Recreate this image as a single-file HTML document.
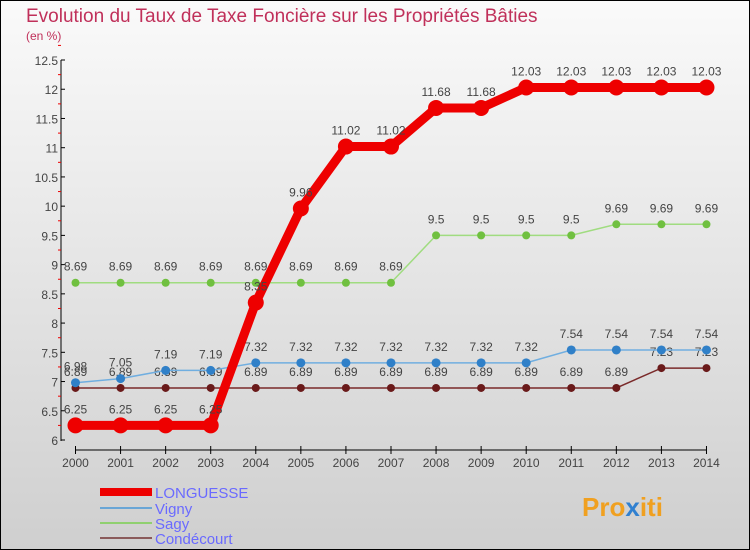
<!DOCTYPE html>
<html><head><meta charset="utf-8"><style>
body{margin:0}
#c{width:750px;height:550px;position:relative;background:linear-gradient(#fafafa,#cfcfcf);box-sizing:border-box;border:1px solid #000;overflow:hidden;font-family:"Liberation Sans",sans-serif}
</style></head><body>
<div id="c">
<svg id="s" width="750" height="550" style="position:absolute;left:-1px;top:-1px">
<text x="26" y="22" font-size="19" fill="#c0305a">Evolution du Taux de Taxe Foncière sur les Propriétés Bâties</text>
<text x="26" y="40" font-size="12" fill="#c0305a">(en %)</text>
<g id="axes"></g><g id="series"></g>
<g font-size="15" fill="#6a6aff">
<line x1="100" y1="492" x2="152" y2="492" stroke="#e00" stroke-width="8"/><text x="155" y="498">LONGUESSE</text>
<line x1="100" y1="508" x2="152" y2="508" stroke="#6aa6d6" stroke-width="2"/><text x="155" y="514">Vigny</text>
<line x1="100" y1="523" x2="152" y2="523" stroke="#90d070" stroke-width="2"/><text x="155" y="529">Sagy</text>
<line x1="100" y1="538" x2="152" y2="538" stroke="#8a5a5a" stroke-width="2"/><text x="155" y="544">Condécourt</text>
</g>
<text x="582" y="516" font-size="26" font-weight="bold" fill="#f0a020">Pro<tspan fill="#3080d0">x</tspan>iti</text>
</svg></div>
<script>
const years=[2000,2001,2002,2003,2004,2005,2006,2007,2008,2009,2010,2011,2012,2013,2014];
const longuesse=[6.25,6.25,6.25,6.25,8.35,9.96,11.02,11.02,11.68,11.68,12.03,12.03,12.03,12.03,12.03];
const vigny=[6.98,7.05,7.19,7.19,7.32,7.32,7.32,7.32,7.32,7.32,7.32,7.54,7.54,7.54,7.54];
const sagy=[8.69,8.69,8.69,8.69,8.69,8.69,8.69,8.69,9.5,9.5,9.5,9.5,9.69,9.69,9.69];
const condecourt=[6.89,6.89,6.89,6.89,6.89,6.89,6.89,6.89,6.89,6.89,6.89,6.89,6.89,7.23,7.23];
const yTicks=[6,6.5,7,7.5,8,8.5,9,9.5,10,10.5,11,11.5,12,12.5];
const NS="http://www.w3.org/2000/svg";
const X=i=>75.5+i*45.07, Y=v=>440-(v-6)*58.46;
function mk(p,t,a){const e=document.createElementNS(NS,t);for(const k in a)e.setAttribute(k,a[k]);p.appendChild(e);return e;}
const ax=document.getElementById('axes'), sg=document.getElementById('series');
let e=mk(ax,'line',{x1:61,y1:60,x2:61,y2:441,stroke:'#000'});


e=mk(ax,'line',{x1:75,y1:450,x2:707,y2:450,stroke:'#000'});


yTicks.forEach((v,i)=>{mk(ax,'line',{x1:61,y1:Y(v),x2:65,y2:Y(v),stroke:'#000'});
 mk(ax,'line',{x1:58,y1:Y(v)-14.6,x2:61,y2:Y(v)-14.6,stroke:'#e00'});
 const t=mk(ax,'text',{x:58,y:Y(v)+5,'text-anchor':'end','font-size':12,fill:'#444'});t.textContent=String(v);
 
 });
years.forEach((y,i)=>{mk(ax,'line',{x1:X(i),y1:446,x2:X(i),y2:454,stroke:'#000'});
 const t=mk(ax,'text',{x:X(i),y:467,'text-anchor':'middle','font-size':12,fill:'#444'});t.textContent=y;
 
 });
function series(d,name,col,mcol,w,r){
 const pl=mk(sg,'polyline',{points:d.map((v,i)=>X(i)+','+Y(v)).join(' '),fill:'none',stroke:col,'stroke-width':w});
 
 
 d.forEach((v,i)=>{const c=mk(sg,'circle',{cx:X(i),cy:Y(v),r:r,fill:mcol});
  
  
  const t=mk(sg,'text',{x:X(i),y:Y(v)-12,'text-anchor':'middle','font-size':12,fill:'#444'});t.textContent=String(v);
  
  });
}
series(condecourt,'condecourt','#7a2a2a','#6a1a1a',1.5,4);
series(sagy,'sagy','#a0dc80','#70c040',1.5,4);
series(vigny,'vigny','#70aee0','#3080c8',1.5,4.5);
series(longuesse,'longuesse','#ee0000','#ee0000',9,8);
</script>
</body></html>
